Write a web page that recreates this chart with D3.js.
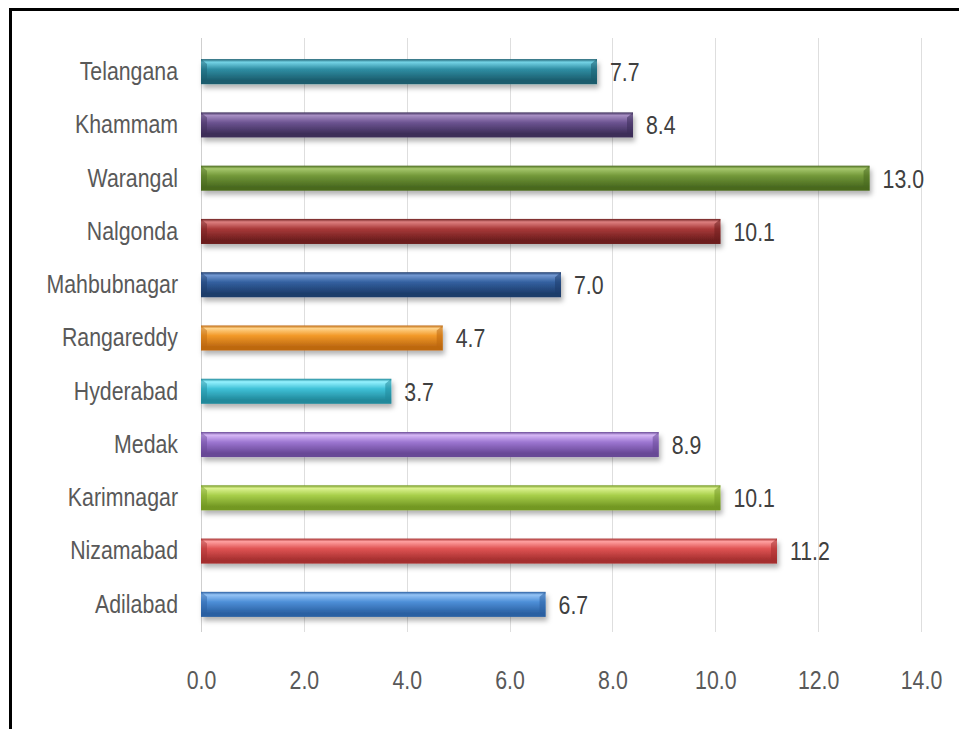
<!DOCTYPE html>
<html>
<head>
<meta charset="utf-8">
<script src="https://d3js.org/d3.v7.min.js"></script>
<style>
  body { margin: 0; background: #fff; }
  svg { display: block; }
  text { font-family: 'Liberation Sans', Arial, sans-serif; }
</style>
</head>
<body>
<div id="chart"></div>
<script>
// categories, top to bottom as drawn
var districts = ["Telangana", "Khammam", "Warangal", "Nalgonda", "Mahbubnagar",
                 "Rangareddy", "Hyderabad", "Medak", "Karimnagar", "Nizamabad", "Adilabad"];
var values = [7.7, 8.4, 13.0, 10.1, 7.0, 4.7, 3.7, 8.9, 10.1, 11.2, 6.7];
var tickValues = [0, 2, 4, 6, 8, 10, 12, 14];
// light / base / dark shade for each bar
var barColours = [
  ["#74d3e6", "#2f8ea4", "#1b5d6e"],
  ["#a78fc3", "#6d5492", "#3d2d59"],
  ["#a6c76c", "#73993a", "#49691f"],
  ["#dd8080", "#a83838", "#6c1e1e"],
  ["#7399d2", "#33609f", "#1d3c6b"],
  ["#ffd38a", "#f39a2a", "#bd680f"],
  ["#95f2ff", "#40c1d7", "#21899b"],
  ["#d7b9f6", "#9d76d2", "#684896"],
  ["#dcf290", "#a8cf4a", "#739824"],
  ["#ffa0a0", "#e05454", "#a52f2f"],
  ["#95c4f6", "#4d8fd8", "#2b60a2"]
];

var width = 959, height = 729;
var fontSize = 26, squeeze = "scale(0.82,1)";

var svg = d3.select("#chart").append("svg")
    .attr("width", width)
    .attr("height", height);

var defs = svg.append("defs");

var shadow = defs.append("filter")
    .attr("id", "shadow")
    .attr("x", "-5%").attr("y", "-40%")
    .attr("width", "115%").attr("height", "200%");
shadow.append("feDropShadow")
    .attr("dx", 2).attr("dy", 4)
    .attr("stdDeviation", 2.5)
    .attr("flood-color", "#000")
    .attr("flood-opacity", 0.3);

districts.forEach(function(d, i) {
    var c = barColours[i];
    var grad = defs.append("linearGradient")
        .attr("id", "grad" + i)
        .attr("x1", 0).attr("y1", 0).attr("x2", 0).attr("y2", 1);
    grad.append("stop").attr("offset", "0%").attr("stop-color", c[2]);
    grad.append("stop").attr("offset", "12%").attr("stop-color", c[0]);
    grad.append("stop").attr("offset", "40%").attr("stop-color", c[1]);
    grad.append("stop").attr("offset", "85%").attr("stop-color", c[2]);
    grad.append("stop").attr("offset", "100%").attr("stop-color", c[2]);
});

// frame, only the top and left edges are inside the picture
svg.append("path")
    .attr("d", "M10.5," + (height + 5) + "V9.5H" + (width + 5))
    .attr("fill", "none")
    .attr("stroke", "#000")
    .attr("stroke-width", 3);

var x = d3.scaleLinear().domain([0, 14]).range([201, 921]);
var y = d3.scaleBand().domain(districts).range([45, 631]).paddingInner(0.53).paddingOuter(0.265);

// gridlines
svg.append("g")
    .selectAll("line")
    .data(tickValues)
    .enter().append("line")
    .attr("x1", function(d) { return Math.round(x(d)) + 0.5; })
    .attr("x2", function(d) { return Math.round(x(d)) + 0.5; })
    .attr("y1", 38)
    .attr("y2", 632)
    .attr("stroke", function(d) { return d === 0 ? "#cfcfcf" : "#dedede"; })
    .attr("stroke-width", 1);

// bars
var bar = svg.append("g")
    .selectAll("g")
    .data(districts)
    .enter().append("g");

bar.append("rect")
    .attr("x", x(0))
    .attr("y", function(d) { return y(d); })
    .attr("width", function(d, i) { return x(values[i]) - x(0); })
    .attr("height", y.bandwidth())
    .attr("fill", function(d, i) { return "url(#grad" + i + ")"; })
    .attr("filter", "url(#shadow)");

// bevelled ends
bar.append("path")
    .attr("d", function(d, i) {
        var x1 = x(values[i]), t = y(d), b = t + y.bandwidth();
        return "M" + x1 + "," + t + "L" + (x1 - 6) + "," + (t + 5) +
               "L" + (x1 - 6) + "," + (b - 5) + "L" + x1 + "," + b + "Z";
    })
    .attr("fill", function(d, i) { return barColours[i][2]; })
    .attr("opacity", 0.55);

bar.append("path")
    .attr("d", function(d) {
        var x0 = x(0), t = y(d), b = t + y.bandwidth();
        return "M" + x0 + "," + t + "L" + (x0 + 6) + "," + (t + 5) +
               "L" + (x0 + 6) + "," + (b - 5) + "L" + x0 + "," + b + "Z";
    })
    .attr("fill", function(d, i) { return barColours[i][2]; })
    .attr("opacity", 0.45);

// value labels
bar.append("text")
    .attr("transform", function(d, i) {
        return "translate(" + (x(values[i]) + 13) + "," + (y(d) + y.bandwidth() / 2) + ")" + squeeze;
    })
    .attr("dy", "0.36em")
    .attr("font-size", fontSize)
    .attr("fill", "#404040")
    .text(function(d, i) { return values[i].toFixed(1); });

// category axis
var yAxis = svg.append("g")
    .attr("transform", "translate(" + 178 + ",0)")
    .call(d3.axisLeft(y).tickSize(0).tickPadding(0));
yAxis.select(".domain").remove();
yAxis.selectAll("text")
    .attr("transform", squeeze)
    .attr("font-family", null)
    .attr("font-size", fontSize)
    .attr("fill", "#595959");

// value axis
var xAxis = svg.append("g")
    .attr("transform", "translate(0,670)")
    .call(d3.axisBottom(x).tickValues(tickValues).tickSize(0).tickPadding(0)
        .tickFormat(d3.format(".1f")));
xAxis.select(".domain").remove();
xAxis.selectAll("text")
    .attr("transform", squeeze)
    .attr("dy", "0.74em")
    .attr("font-size", fontSize)
    .attr("fill", "#595959");
xAxis.attr("font-family", null);
yAxis.attr("font-family", null);
</script>
</body>
</html>
